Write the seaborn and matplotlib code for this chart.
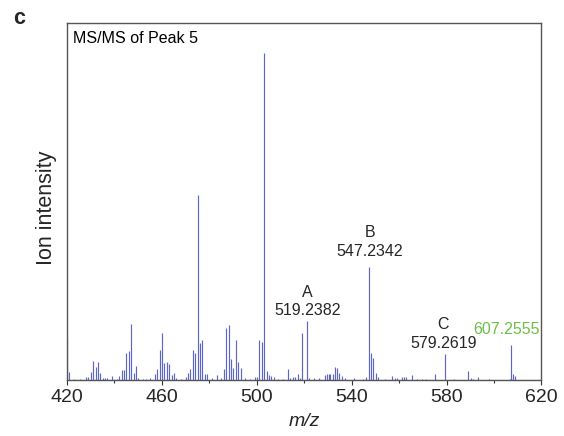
import matplotlib
matplotlib.use("Agg")
import matplotlib.pyplot as plt
from matplotlib.ticker import MultipleLocator
import seaborn as sns
import pandas as pd

# Fragment ions: m/z and relative intensity (%)
mz = [
    420.15, 421.1, 423.0, 425.5, 428.1, 429.0, 430.1, 431.2, 432.2, 433.2,
    434.1, 435.1, 436.1, 437.1, 439.2, 441.0, 442.1, 443.1, 444.1, 445.1,
    446.1, 447.1, 448.2, 449.2, 450.2, 452.0, 453.5, 455.0, 457.0, 458.1,
    459.1, 460.1, 461.1, 462.1, 463.1, 464.2, 465.2, 466.2, 468.0, 470.1,
    471.1, 472.0, 473.0, 474.2, 475.1, 476.1, 477.1, 478.1, 479.2, 481.0,
    483.1, 485.1, 486.1, 487.1, 488.2, 489.0, 490.1, 491.3, 492.3, 493.3,
    495.0, 497.0, 499.2, 500.1, 501.2, 502.3, 503.3, 504.3, 505.2, 506.2,
    507.2, 509.0, 511.0, 513.3, 514.2, 515.2, 516.1, 517.3, 518.2, 519.2382,
    521.2, 522.2, 524.0, 526.4, 528.9, 529.6, 530.3, 531.1, 532.0, 533.0,
    534.0, 534.9, 535.9, 537.4, 541.0, 545.0, 546.2, 547.2342, 548.0, 549.0,
    550.1, 551.1, 554.0, 557.1, 558.1, 559.2, 561.2, 562.0, 563.1, 565.3,
    567.5, 569.5, 571.5, 575.1, 579.2619, 583.0, 589.1, 590.1, 591.1, 593.3,
    598.0, 606.8, 607.2555, 608.1, 608.9,
]
intensity = [
    13.2, 2.4, 0.4, 0.4, 1.0, 1.0, 2.5, 5.9, 4.1, 5.5,
    2.3, 0.6, 0.5, 0.5, 1.2, 0.4, 1.3, 3.1, 3.1, 8.2,
    9.0, 17.3, 2.0, 4.4, 0.5, 0.4, 0.4, 0.5, 1.8, 3.4,
    9.2, 14.3, 5.3, 5.4, 4.8, 1.5, 2.3, 0.5, 0.4, 0.8,
    2.0, 3.4, 9.2, 8.2, 56.6, 11.2, 12.2, 1.8, 1.8, 0.5,
    1.5, 0.6, 3.3, 16.0, 16.8, 6.4, 3.6, 12.2, 5.4, 3.7,
    0.5, 0.4, 0.8, 1.0, 12.2, 11.5, 100.0, 2.8, 1.5, 1.3,
    0.8, 0.4, 0.4, 3.4, 0.6, 1.0, 1.0, 1.7, 0.6, 14.5,
    18.1, 0.6, 0.6, 0.6, 1.5, 1.7, 1.7, 1.7, 1.8, 4.1,
    3.8, 2.0, 1.2, 0.6, 0.5, 0.4, 0.8, 34.5, 8.2, 6.6,
    2.3, 1.0, 0.4, 1.2, 0.5, 0.7, 0.8, 0.8, 0.8, 1.6,
    0.4, 0.4, 0.4, 1.7, 8.0, 0.3, 2.8, 0.5, 0.3, 0.9,
    0.3, 0.3, 10.7, 1.7, 1.2,
]

# Annotated fragments: letter, m/z label, label centre (m/z), baseline heights
ann_letters = ["A", "B", "C"]
ann_values = ["519.2382", "547.2342", "579.2619"]
ann_x = [521.3, 547.6, 578.6]
ann_letter_y = [25.5, 43.9, 15.5]
ann_value_y = [19.9, 38.0, 9.7]

precursor_label = "607.2555"
precursor_x = 605.1
precursor_y = 14.1

x_ticks = [420, 460, 500, 540, 580, 620]

spectrum = pd.DataFrame({"mz": mz, "intensity": intensity})

sns.set_style("white")
plt.rcParams["font.family"] = ["Liberation Sans", "DejaVu Sans"]

fig = plt.figure(figsize=(5.64, 4.36), dpi=100)
ax = fig.add_axes([0.1183, 0.1284, 0.8418, 0.8189])

stick_color = "#5d68c6"
ax.vlines(spectrum["mz"], 0, spectrum["intensity"], color=stick_color, lw=0.85)
ax.axhline(0.15, color=stick_color, lw=0.8)

ax.set_xlim(420, 620)
ax.set_ylim(0, 109.3)
ax.set_xticks(x_ticks)
ax.xaxis.set_minor_locator(MultipleLocator(20))
ax.set_yticks([])

ax.tick_params(axis="x", which="major", direction="out", length=3.6, width=0.8,
               color="#333333", labelsize=14, pad=3, bottom=True)
ax.tick_params(axis="x", which="minor", direction="out", length=2.2, width=0.8,
               color="#333333", bottom=True)

for side in ["left", "right", "top", "bottom"]:
    ax.spines[side].set_color("#555555")
    ax.spines[side].set_linewidth(1.0)

ax.set_xlabel("m/z", fontsize=14, style="italic", labelpad=5)
ax.set_ylabel("Ion intensity", fontsize=15.5, va="center", ha="center")
ax.yaxis.set_label_coords(-0.043, 0.483)

ax.text(0.0126, 0.943, "MS/MS of Peak 5", transform=ax.transAxes,
        fontsize=11.5, va="baseline", ha="left", color="black")

for letter, value, xc, ly, vy in zip(ann_letters, ann_values, ann_x,
                                     ann_letter_y, ann_value_y):
    ax.text(xc, ly, letter, fontsize=11.5, ha="center", va="baseline")
    ax.text(xc, vy, value, fontsize=11.5, ha="center", va="baseline")

ax.text(precursor_x, precursor_y, precursor_label, fontsize=11.5,
        ha="center", va="baseline", color="#6cbf4a")

fig.text(0.0225, 0.945, "c", fontsize=15.5, fontweight="bold",
         ha="left", va="baseline")

fig.savefig("out.png", dpi=100)
